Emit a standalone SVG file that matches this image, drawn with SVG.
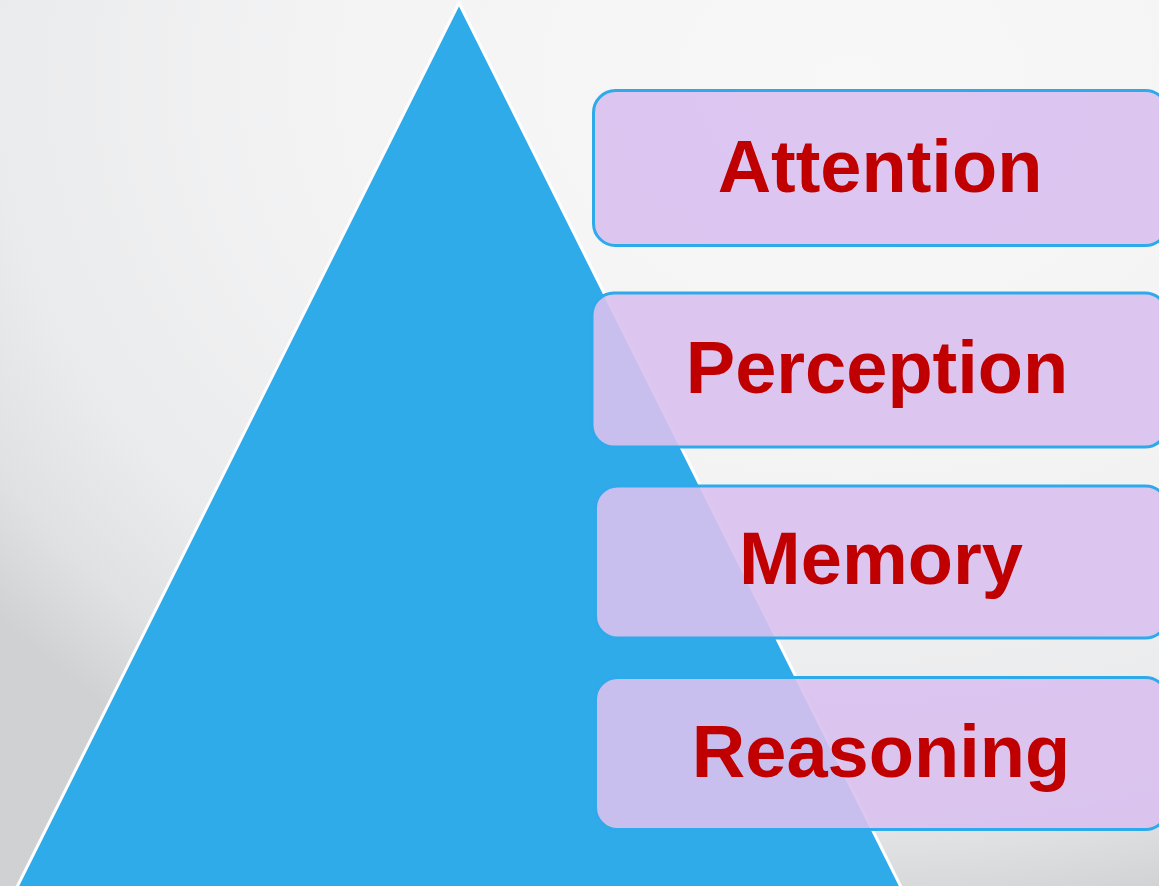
<svg xmlns="http://www.w3.org/2000/svg" width="1159" height="886" viewBox="0 0 1159 886">
  <defs>
    <radialGradient id="bg" gradientUnits="userSpaceOnUse" cx="850" cy="80" r="1000" gradientTransform="translate(850 80) scale(1.1 0.85) translate(-850 -80)">
      <stop offset="0" stop-color="#F8F8F9"/>
      <stop offset="0.5" stop-color="#F3F3F4"/>
      <stop offset="0.78" stop-color="#EAEBEC"/>
      <stop offset="0.9" stop-color="#E0E1E2"/>
      <stop offset="1" stop-color="#CFD1D2"/>
    </radialGradient>
  </defs>
  <style>
    .box { fill: #D9C1F0; fill-opacity: 0.9; stroke: #2EA9E9; stroke-width: 3; }
    .label { font-family: "Liberation Sans", Arial, sans-serif; font-weight: bold; font-size: 74px; fill: #C00000; text-anchor: middle; }
  </style>

  <rect x="0" y="0" width="1159" height="886" fill="url(#bg)"/>

  <!-- pyramid -->
  <g id="pyramid">
    <polygon points="459,3 10,901 908,901" fill="#2FABEA" stroke="#FFFFFF" stroke-width="3" stroke-linejoin="miter"/>
  </g>

  <g id="connectors"></g>

  <g id="attention">
    <rect class="box" x="593.5" y="90.5" width="574" height="155" rx="22" ry="22"/>
    <text class="label" x="880" y="192">Attention</text>
  </g>
  <g id="perception">
    <rect class="box" x="592" y="293" width="575" height="154" rx="22" ry="22"/>
    <text class="label" x="877" y="393">Perception</text>
  </g>
  <g id="memory">
    <rect class="box" x="595.5" y="486" width="572" height="152" rx="22" ry="22"/>
    <text class="label" x="881" y="584">Memory</text>
  </g>
  <g id="reasoning">
    <rect class="box" x="595.5" y="677.5" width="572" height="152" rx="22" ry="22"/>
    <text class="label" x="881" y="777">Reasoning</text>
  </g>
</svg>
